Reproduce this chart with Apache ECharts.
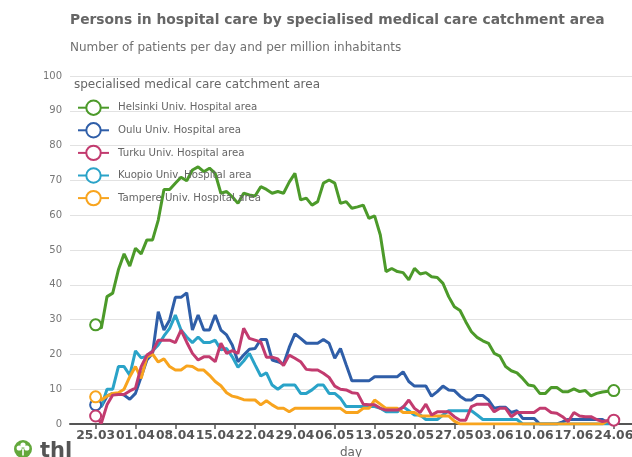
<!DOCTYPE html>
<html>
<head>
<meta charset="utf-8">
<script src="https://cdn.jsdelivr.net/npm/echarts@6/dist/echarts.min.js"></script>
<style>
html,body{margin:0;padding:0;background:#fff;}
#chart{width:632px;height:457px;}
</style>
</head>
<body>
<div id="chart"></div>
<script>
// ---- data ----
const startDay = '2020-03-25';
const dayCount = 92;
const tickLabels = ['25.03','01.04','08.04','15.04','22.04','29.04','06.05','13.05','20.05','27.05','03.06','10.06','17.06','24.06'];
const tickDays = [0,7,14,21,28,35,42,49,56,63,70,77,84,91];

const seriesNames = ['Helsinki Univ. Hospital area','Oulu Univ. Hospital area','Turku Univ. Hospital area','Kuopio Univ. Hospital area','Tampere Univ. Hospital area'];

const helsinki = [
28.5,27.5,36.6,37.6,44.3,48.9,45.4,50.5,48.9,52.9,
52.9,58.6,67.4,67.4,69.2,70.9,69.9,73.0,73.9,72.5,
73.5,72.0,66.3,66.8,65.3,63.4,66.3,65.8,65.5,68.2,
67.4,66.3,66.8,66.3,69.5,72.0,64.4,64.9,62.9,63.9,
69.2,70.1,69.2,63.4,63.9,62.0,62.4,62.9,59.1,59.8,
54.3,43.8,44.7,43.8,43.5,41.4,44.7,43.1,43.5,42.3,
42.1,40.4,36.6,33.7,32.6,29.4,26.5,24.9,23.9,23.2,
20.3,19.5,16.5,15.3,14.7,13.1,11.2,10.9,8.8,8.8,
10.5,10.5,9.3,9.3,10.1,9.3,9.6,8.1,8.8,9.2,
9.4,9.6];

const oulu = [
5.5,5.0,8.0,8.8,8.8,8.3,7.1,8.8,13.6,18.4,
20.3,32.3,27.0,29.9,36.4,36.4,37.7,27.0,31.3,27.0,
27.0,31.3,27.0,25.6,22.7,17.9,19.8,21.5,21.7,24.3,
24.3,18.4,17.9,17.2,22.0,25.9,24.6,23.2,23.2,23.2,
24.3,23.2,18.9,21.7,17.0,12.4,12.4,12.4,12.4,13.6,
13.6,13.6,13.6,13.6,15.0,12.2,10.9,10.9,10.9,8.0,
9.3,10.9,9.8,9.6,8.0,6.9,6.9,8.2,8.2,6.9,
4.5,4.8,4.8,3.3,3.8,1.6,1.6,1.6,0,0,
0,0,0.6,1.3,1.3,1.3,1.3,1.3,1.3,1.3,
0.3,0];

const turku = [
2.3,0.2,5.5,8.3,8.5,8.5,9.5,10.3,16.5,19.8,
20.8,24.1,24.1,24.1,23.4,27.0,23.5,20.3,18.4,19.3,
19.3,17.9,23.2,20.3,21.1,20.3,27.5,24.6,24.1,23.6,
19.2,19.2,18.7,16.8,19.8,18.9,17.9,15.7,15.5,15.5,
14.6,13.4,10.9,10.0,9.8,9.0,8.8,5.7,5.5,5.5,
4.5,4.0,4.0,4.0,4.8,6.9,4.5,3.3,5.7,2.6,
3.5,3.5,3.5,2.1,1.1,1.1,5.0,5.7,5.7,5.7,
3.5,4.5,4.5,2.1,3.3,3.3,3.3,3.3,4.5,4.5,
3.3,3.1,2.1,0.7,3.3,2.3,2.1,2.1,1.3,0.7,
1.0,1.1];

const kuopio = [
null,5.0,10.0,10.0,16.5,16.5,14.0,21.0,19.0,19.5,
21.0,22.7,25.3,27.5,31.3,27.0,25.0,23.4,25.0,23.4,
23.4,24.1,21.3,21.7,19.3,16.3,18.1,20.3,17.0,13.8,
14.7,11.2,10.0,11.2,11.2,11.2,8.8,8.8,9.8,11.2,
11.2,8.8,8.8,7.4,5.0,5.0,5.0,5.0,5.0,5.0,
4.5,3.5,3.5,3.5,5.0,3.8,2.6,2.6,1.3,1.3,
1.3,2.6,3.8,3.8,3.8,3.8,3.8,2.6,1.3,1.3,
1.3,1.3,1.3,1.3,1.3,0,0,0,0,0,
0,0,0,0,0,0,0,0,0,0,
0,0];

const tampere = [
7.8,6.9,8.0,8.8,9.0,10.0,13.6,16.5,13.1,19.3,
20.1,17.8,18.7,16.5,15.5,15.5,16.7,16.5,15.5,15.5,
14.0,12.2,11.0,9.0,8.0,7.6,7.0,6.9,6.9,5.5,
6.7,5.5,4.5,4.5,3.5,4.5,4.5,4.5,4.5,4.5,
4.5,4.5,4.5,4.5,3.3,3.3,3.3,4.5,4.5,6.9,
5.7,4.5,4.5,4.5,3.3,3.3,3.3,2.3,2.3,2.3,
2.3,2.3,2.3,0.8,0,0,0,0,0,0,
0,0,0,0,0,0,0,0,0,0,
0,0,0,0,0,0,0,0,0,0,
1.0,1.0];

// ---- categories (dates) ----
const days = [];
(function(){
  const d0 = new Date(startDay + 'T00:00:00Z');
  for (let i = 0; i < dayCount; i++) {
    const d = new Date(d0.getTime() + i * 86400000);
    days.push(String(d.getUTCDate()).padStart(2,'0') + '.' + String(d.getUTCMonth()+1).padStart(2,'0'));
  }
})();

const colors = ['#4c9a2a','#2f5ea8','#c23b6f','#2aa3c8','#f8a41e'];
const values = [helsinki, oulu, turku, kuopio, tampere];
const markerAt = [[0,91],[0],[0,91],[],[0]];
const zLevels = [2,2,4,2,3];

const FONT = 'DejaVu Sans';

const chart = echarts.init(document.getElementById('chart'), null, {renderer:'canvas'});

const series = seriesNames.map((name, s) => ({
  name: name,
  type: 'line',
  z: zLevels[s],
  data: values[s].map((v, i) => [i, v]),
  symbol: 'emptyCircle',
  symbolSize: (val, params) => markerAt[s].indexOf(params.dataIndex) >= 0 ? 11 : 0,
  showAllSymbol: true,
  lineStyle: {width: 3, color: colors[s]},
  itemStyle: {color: colors[s], borderWidth: 2.8},
  emphasis: {disabled: true},
  connectNulls: false
}));

chart.setOption({
  animation: false,
  backgroundColor: '#fff',
  textStyle: {fontFamily: FONT},
  grid: {left: 70, right: 0, top: 76, bottom: 33, containLabel: false, outerBoundsMode: 'none'},
  xAxis: {
    type: 'value',
    min: -4.5,
    max: 94.2,
    name: 'day',
    nameLocation: 'middle',
    nameGap: 23,
    nameTextStyle: {fontFamily: FONT, fontSize: 12, color: '#666'},
    axisLine: {show: true, onZero: false, lineStyle: {color: '#555', width: 2}},
    axisTick: {show: true, customValues: tickDays, length: 5, lineStyle: {color: '#555', width: 1.5}},
    axisLabel: {
      customValues: tickDays,
      showMinLabel: true,
      showMaxLabel: true,
      hideOverlap: false,
      formatter: v => tickLabels[tickDays.indexOf(Math.round(v))] || '',
      fontFamily: FONT, fontSize: 12.3, fontWeight: 'bold', color: '#555', margin: 6
    },
    splitLine: {show: false}
  },
  yAxis: {
    type: 'value',
    min: 0, max: 100, interval: 10,
    axisLine: {show: false},
    axisTick: {show: false},
    axisLabel: {fontFamily: FONT, fontSize: 10, color: '#777', margin: 8},
    splitLine: {show: true, lineStyle: {color: '#e2e2e2', width: 1}}
  },
  legend: {
    orient: 'vertical',
    left: 77,
    top: 99.5,
    padding: 0,
    itemWidth: 31,
    itemHeight: 18,
    itemGap: 6.2,
    data: seriesNames,
    textStyle: {fontFamily: FONT, fontSize: 10.2, color: '#666', padding: [0,0,0,4]},
    selectedMode: false
  },
  graphic: [
    {type: 'text', left: 70, top: 13.5, style: {text: 'Persons in hospital care by specialised medical care catchment area', font: 'bold 13.85px "DejaVu Sans"', fill: '#666'}},
    {type: 'text', left: 70, top: 41.5, style: {text: 'Number of patients per day and per million inhabitants', font: '12px "DejaVu Sans"', fill: '#707070'}},
    {type: 'text', left: 74, top: 79, style: {text: 'specialised medical care catchment area', font: '12px "DejaVu Sans"', fill: '#666'}},
    {type: 'group', left: 14, top: 440, children: [
      {type: 'circle', shape: {cx: 9, cy: 9, r: 9}, style: {fill: '#63a83c'}},
      {type: 'circle', shape: {cx: 9, cy: 5, r: 2.6}, style: {fill: '#fff'}},
      {type: 'circle', shape: {cx: 5.2, cy: 8, r: 2.6}, style: {fill: '#fff'}},
      {type: 'circle', shape: {cx: 12.8, cy: 8, r: 2.6}, style: {fill: '#fff'}},
      {type: 'rect', shape: {x: 8.2, y: 8.5, width: 1.6, height: 7}, style: {fill: '#fff'}}
    ]},
    {type: 'text', left: 40, top: 441, style: {text: 'thl', font: 'bold 21px "DejaVu Sans"', fill: '#555'}}
  ],
  series: series
});
</script>
</body>
</html>
